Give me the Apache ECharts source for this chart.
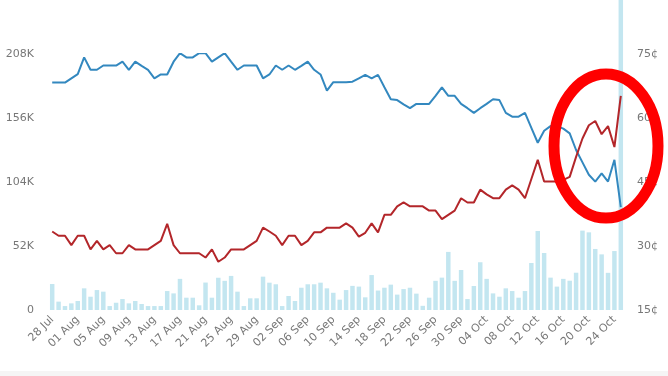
<!DOCTYPE html>
<html lang="en">
  <head>
    <meta charset="UTF-8" />
    <title>Market</title>
    <style>
      html, body { margin: 0; padding: 0; background: #fff; }
    </style>
  </head>
  <body>
    <div id="main" style="width: 668px; height: 376px"></div>

    <script src="https://cdn.jsdelivr.net/npm/echarts@6/dist/echarts.min.js"></script>
    <script>
      // days 28 Jul .. 25 Oct
      var monthNames = ["Jul", "Aug", "Sep", "Oct"];
      var monthLengths = [31, 31, 30, 31];
      var days = [];
      var m = 0, d = 28;
      for (var k = 0; k < 90; k++) {
        days.push((d < 10 ? "0" + d : "" + d) + " " + monthNames[m]);
        d++;
        if (d > monthLengths[m]) { d = 1; m++; }
      }

      // volume, thousands
      var volumeK = [
        21.1, 6.8, 3.2, 5.4, 7.3, 17.6, 10.8, 16.2, 14.9, 3.2,
        5.9, 8.9, 5.4, 7.3, 4.9, 3.2, 3.2, 3.2, 15.4, 13.5,
        25.3, 10, 10, 3.8, 22.3, 10, 26.2, 23.7, 27.7, 14.9,
        3.2, 9.5, 9.5, 27.1, 22.2, 20.9, 3.2, 11.4, 7.3, 18.1,
        20.9, 20.9, 22.2, 17.6, 14, 8.4, 16.2, 19.6, 19.0, 10.3,
        28.4, 15.8, 18.1, 20.6, 12.5, 17, 18.1, 13.3, 3.4, 10,
        23.7, 26.3, 47.2, 23.7, 32.5, 8.9, 19.5, 38.8, 25.3, 13.5,
        10.8, 17.6, 15.4, 10, 15.4, 38.2, 64.2, 46.3, 26.3, 19,
        25.3, 23.8, 30.3, 64.5, 63.1, 49.6, 45.2, 30.2, 47.9, 252
      ];

      // prices, cents
      var bluePrice = [
        68.3, 68.3, 68.3, 69.3, 70.3, 74.2, 71.3, 71.3, 72.3, 72.3,
        72.3, 73.2, 71.3, 73.2, 72.2, 71.3, 69.3, 70.2, 70.2, 73.2,
        75.2, 74.2, 74.2, 75.2, 75.2, 73.2, 74.2, 75.2, 73.2, 71.3,
        72.3, 72.3, 72.3, 69.3, 70.2, 72.3, 71.3, 72.3, 71.3, 72.2,
        73.2, 71.3, 70.2, 66.4, 68.4, 68.4, 68.4, 68.5, 69.3, 70.1,
        69.3, 70.1, 67.2, 64.4, 64.2, 63.2, 62.3, 63.3, 63.3, 63.3,
        65.2, 67.2, 65.2, 65.2, 63.3, 62.3, 61.2, 62.3, 63.3, 64.4,
        64.2, 61.2, 60.3, 60.3, 61.2, 57.7, 54.2, 57.0, 58.1, 58.1,
        57.5, 56.4, 52.5, 49.6, 46.7, 45.1, 47.0, 45.1, 50.2, 39.1
      ];
      var redPrice = [
        33.4, 32.4, 32.4, 30.2, 32.4, 32.4, 29.2, 31.2, 29.2, 30.2,
        28.3, 28.3, 30.2, 29.2, 29.2, 29.2, 30.2, 31.2, 35.2, 30.2,
        28.3, 28.3, 28.3, 28.3, 27.3, 29.2, 26.3, 27.3, 29.2, 29.2,
        29.2, 30.2, 31.2, 34.3, 33.4, 32.4, 30.2, 32.4, 32.4, 30.2,
        31.2, 33.2, 33.2, 34.3, 34.3, 34.3, 35.3, 34.3, 32.2, 33.1,
        35.3, 33.2, 37.3, 37.3, 39.3, 40.2, 39.3, 39.3, 39.3, 38.3,
        38.3, 36.3, 37.3, 38.3, 41.2, 40.2, 40.2, 43.2, 42.1, 41.2,
        41.2, 43.2, 44.2, 43.2, 41.2, 45.7, 50.2, 45.1, 45.1, 45.1,
        45.5, 46.2, 50.9, 55.2, 58.3, 59.3, 56.2, 58.1, 53.2, 65.2
      ];

      var myChart = echarts.init(document.getElementById("main"), null, {
        renderer: "canvas",
      });

      var labelStyle = {
        color: "#777",
        fontSize: 11,
        fontFamily: "DejaVu Sans",
      };

      var option = {
        backgroundColor: "#fff",
        animation: false,
        grid: { left: 49, right: 44, top: 54, bottom: 66 },
        xAxis: {
          type: "category",
          data: days,
          boundaryGap: true,
          axisLine: { show: false },
          axisTick: { show: false },
          axisLabel: Object.assign({ interval: 3, rotate: 45, margin: 8 }, labelStyle),
        },
        yAxis: [
          {
            type: "value",
            min: 0,
            max: 208,
            interval: 52,
            splitLine: { show: false },
            axisLine: { show: false },
            axisTick: { show: false },
            axisLabel: Object.assign({
              margin: 15,
              formatter: function (v) { return v === 0 ? "0" : v + "K"; },
            }, labelStyle),
          },
          {
            type: "value",
            min: 15,
            max: 75,
            interval: 15,
            position: "right",
            splitLine: { show: false },
            axisLine: { show: false },
            axisTick: { show: false },
            axisLabel: Object.assign({
              margin: 13,
              formatter: function (v) { return v + "¢"; },
            }, labelStyle),
          },
        ],
        series: [
          {
            type: "bar",
            data: volumeK,
            yAxisIndex: 0,
            barCategoryGap: "30%",
            clip: false,
            itemStyle: { color: "#c3e6f0" },
            z: 1,
          },
          {
            type: "line",
            data: bluePrice,
            yAxisIndex: 1,
            symbol: "none",
            lineStyle: { color: "#3388bf", width: 2 },
            z: 3,
          },
          {
            type: "line",
            data: redPrice,
            yAxisIndex: 1,
            symbol: "none",
            lineStyle: { color: "#b3262a", width: 2 },
            z: 3,
          },
        ],
        graphic: [
          {
            type: "ellipse",
            shape: { cx: 606, cy: 146, rx: 52, ry: 72 },
            style: { fill: "none", stroke: "#ff0000", lineWidth: 11 },
            z: 100,
          },
          {
            type: "rect",
            shape: { x: 0, y: 371, width: 668, height: 5 },
            style: { fill: "#f5f5f5" },
            z: 0,
          },
        ],
      };
      myChart.setOption(option);
    </script>
  </body>
</html>
